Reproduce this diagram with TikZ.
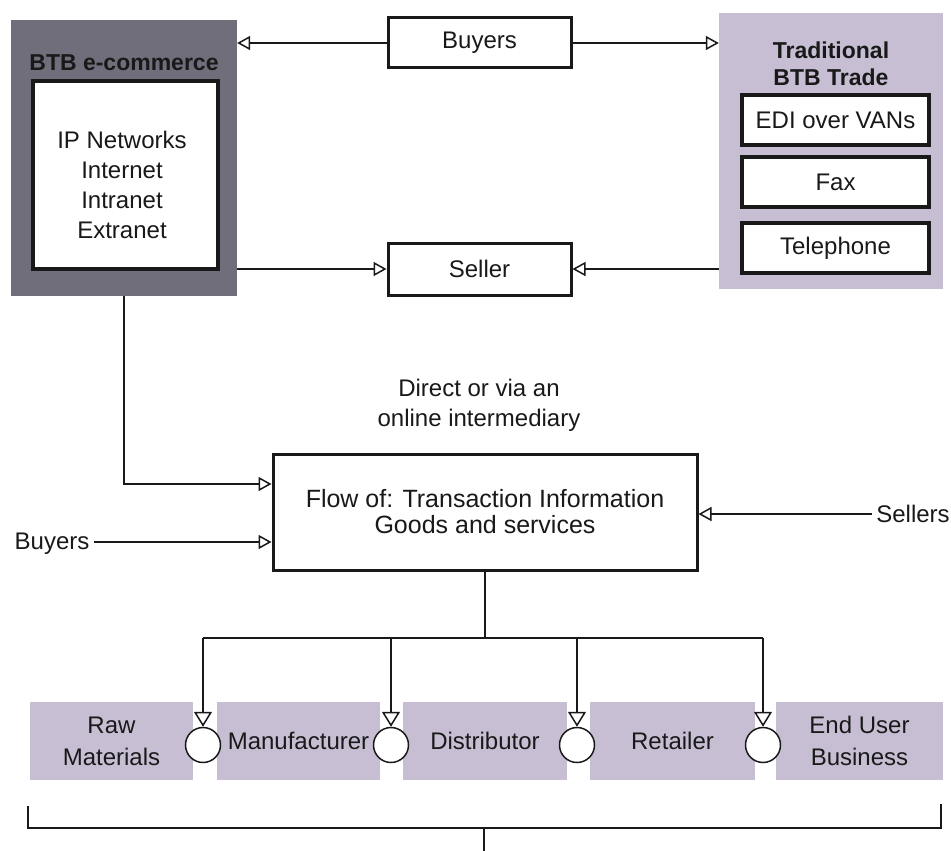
\documentclass[tikz,border=0pt]{standalone}
\usepackage{fontspec}
\setmainfont{Liberation Sans}
\usetikzlibrary{arrows.meta}

\definecolor{darkpanel}{RGB}{112,110,122}
\definecolor{lilac}{RGB}{199,190,211}
\definecolor{ink}{RGB}{25,25,25}

\tikzset{
  lbl/.style={text=ink, font=\fontsize{24}{30}\selectfont, align=center, inner sep=4pt},
  ttl/.style={text=ink, font=\fontsize{23}{27}\selectfont\bfseries, align=center, inner sep=0pt},
  box/.style={draw=ink, fill=white, line width=3pt, inner sep=0pt, text=ink,
              font=\fontsize{24}{30}\selectfont, align=center},
  panel/.style={draw=none, inner sep=0pt, text=ink, align=center,
                font=\fontsize{24}{32}\selectfont},
  hub/.style={circle, draw=ink, fill=white, line width=1.5pt, minimum size=35pt, inner sep=0pt},
  wire/.style={draw=ink, line width=1.6pt},
  flowarrow/.style={wire, -{Triangle[open, fill=white, length=13pt, width=14pt, line width=1.5pt]}},
  droparrow/.style={wire, -{Triangle[open, fill=white, length=15pt, width=18pt, line width=1.5pt]}},
}

\begin{document}
\begin{tikzpicture}[x=1pt, y=-1pt]
  \useasboundingbox (0,0) rectangle (951,851);

  % BTB e-commerce panel with its network box
  \node[panel, fill=darkpanel, minimum width=226pt, minimum height=276pt] (btb) at (124,158) {};
  \node[ttl] (btbtitle) at (124,63) {BTB e-commerce};
  \node[box, line width=3.5pt, minimum width=185pt, minimum height=188pt] (ip) at (125.5,175) {};
  \node[lbl] (iptext) at (122,185) {IP Networks\\Internet\\Intranet\\Extranet};

  % buyer and seller boxes
  \node[box, minimum width=183pt, minimum height=50pt] (buyers) at (479.5,43) {Buyers};
  \node[box, minimum width=183pt, minimum height=52pt] (seller) at (479.5,269) {Seller};

  % traditional trade panel
  \node[panel, fill=lilac, minimum width=224pt, minimum height=276pt] (trad) at (831,151) {};
  \node[ttl] (tradtitle) at (831,64) {Traditional\\BTB Trade};
  \node[box, line width=3.5pt, minimum width=187pt, minimum height=50pt] (edi) at (835.5,120) {EDI over VANs};
  \node[box, line width=3.5pt, minimum width=187pt, minimum height=50pt] (fax) at (835.5,182) {Fax};
  \node[box, line width=3.5pt, minimum width=187pt, minimum height=50pt] (tel) at (835.5,248) {Telephone};

  % upper connectors
  \draw[flowarrow] (buyers.west) -- (buyers.west -| btb.east);
  \draw[flowarrow] (buyers.east) -- (buyers.east -| trad.west);
  \draw[flowarrow] (seller.west -| btb.east) -- (seller.west);
  \draw[flowarrow] (seller.east -| trad.west) -- (seller.east);

  % central flow box
  \node[lbl] (direct) at (479,405) {Direct or via an\\online intermediary};
  \node[box, minimum width=424pt, minimum height=116pt,
        font=\fontsize{25}{26}\selectfont] (flow) at (485,512)
        {Flow of: Transaction Information\\Goods and services};
  \node[lbl] (buyersL) at (52,544) {Buyers};
  \node[lbl] (sellersR) at (913,514) {Sellers};

  \draw[flowarrow] (btb.south) |- ([yshift=28pt]flow.west);
  \draw[flowarrow] ([yshift=-30pt]flow.west -| buyersL.east) -- ([yshift=-30pt]flow.west);
  \draw[flowarrow] (sellersR.west) -- (sellersR.west -| flow.east);

  % supply chain
  \node[panel, fill=lilac, minimum width=163pt, minimum height=78pt] (raw)  at (111.5,741) {Raw\\Materials};
  \node[panel, fill=lilac, minimum width=163pt, minimum height=78pt] (manu) at (298.5,741) {Manufacturer};
  \node[panel, fill=lilac, minimum width=164pt, minimum height=78pt] (dist) at (485,741) {Distributor};
  \node[panel, fill=lilac, minimum width=165pt, minimum height=78pt] (ret)  at (672.5,741) {Retailer};
  \node[panel, fill=lilac, minimum width=167pt, minimum height=78pt] (endu) at (859.5,741) {End User\\Business};

  \node[hub] (c1) at (203,745) {};
  \node[hub] (c2) at (391,745) {};
  \node[hub] (c3) at (577,745) {};
  \node[hub] (c4) at (763,745) {};

  \coordinate (bus) at (485,638);
  \draw[wire] (flow.south) -- (bus);
  \draw[wire] (c1 |- bus) -- (c4 |- bus);
  \foreach \c in {c1,c2,c3,c4}
    \draw[droparrow] (\c |- bus) -- (\c.north);

  % bracket under the chain
  \coordinate (bl) at (28,806);
  \coordinate (br) at (941,804);
  \coordinate (bmid) at (484,828);
  \coordinate (bend) at (484,851);
  \draw[wire] (bl) |- (bmid) -| (br);
  \draw[wire] (bmid) -- (bend);
\end{tikzpicture}
\end{document}
